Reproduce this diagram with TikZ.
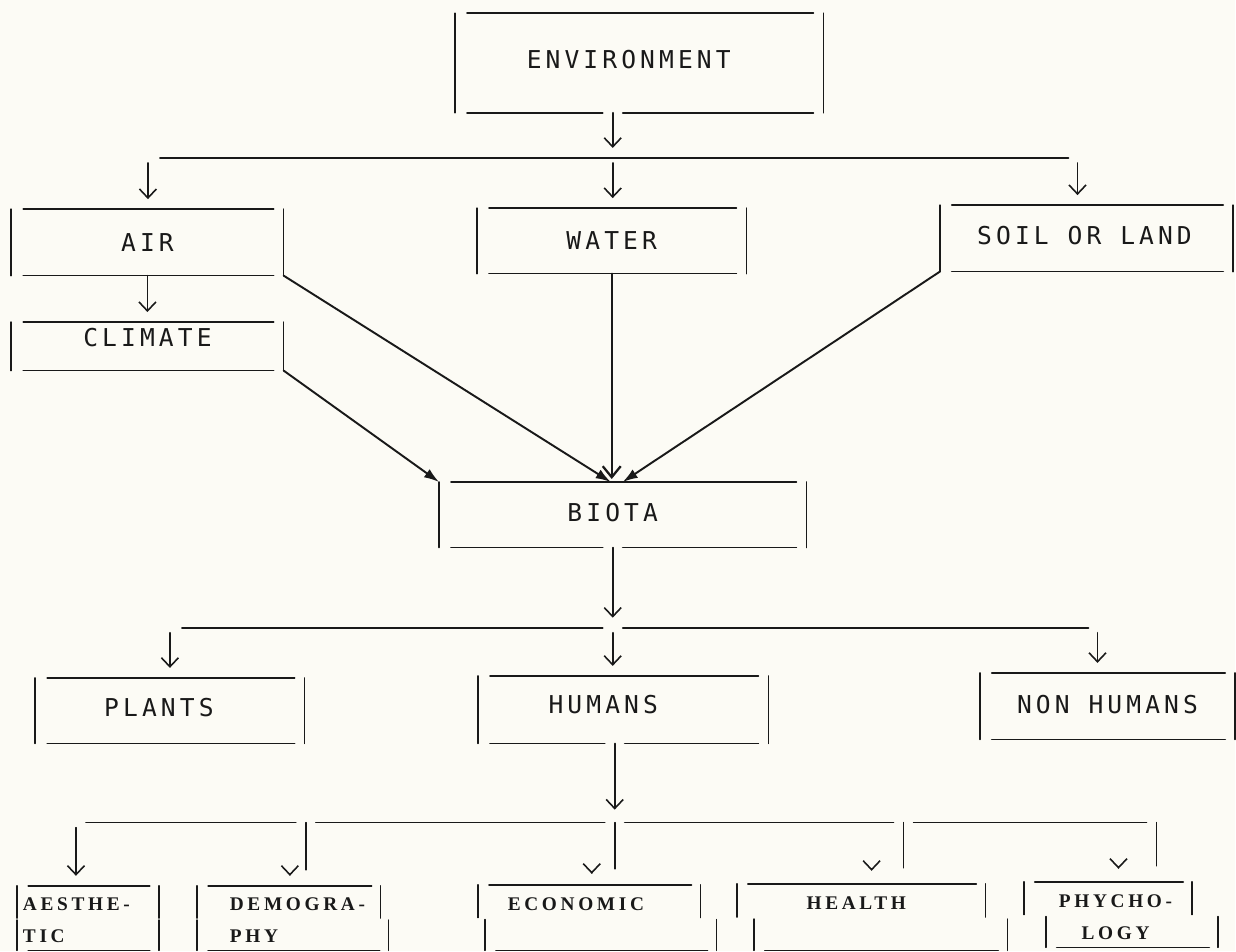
\documentclass[tikz,border=0pt]{standalone}
\usepackage{fontspec}
\usetikzlibrary{arrows.meta,positioning}
\newfontfamily\plotfont[LetterSpace=16.7]{DejaVu Sans Mono}
\newfontfamily\nlqfont[LetterSpace=19]{Liberation Serif}
\definecolor{paper}{RGB}{252,251,245}
\definecolor{ink}{RGB}{25,25,25}

\begin{document}
\begin{tikzpicture}[
  x=0.2mm, y=-0.2mm, line width=0.9pt, color=ink, line cap=round,
  >={Straight Barb[length=1.8mm,width=3.4mm]},
  plot/.style={font=\plotfont\fontsize{14}{16}\selectfont, inner sep=0pt},
  nlq/.style={font=\nlqfont\bfseries\fontsize{11}{18.5}\selectfont, inner sep=0pt, align=left},
  frame/.style 2 args={inner sep=0pt, minimum width=#1*0.2mm, minimum height=#2*0.2mm,
    append after command={\pgfextra{\let\bx\tikzlastnode}
      ([xshift=2.4mm]\bx.north west) edge ([xshift=-2mm]\bx.north east)
      (\bx.north west) edge (\bx.south west)
      (\bx.north east) edge (\bx.south east)}},
  box/.style 2 args={frame={#1}{#2},
    append after command={\pgfextra{\let\bx\tikzlastnode}
      ([xshift=2.4mm]\bx.south west) edge ([xshift=-2mm]\bx.south east)}},
  gapbox/.style n args={3}{frame={#1}{#2},
    append after command={\pgfextra{\let\bx\tikzlastnode}
      ([xshift=2.4mm]\bx.south west) edge ([xshift={(#3-10)*0.2mm}]\bx.south)
      ([xshift={(#3+10)*0.2mm}]\bx.south) edge ([xshift=-2mm]\bx.south east)}},
  tier/.style n args={4}{inner sep=0pt, minimum width=#1*0.2mm, minimum height=#2*0.2mm,
    append after command={\pgfextra{\let\bx\tikzlastnode}
      ([xshift=2.2mm]\bx.north west) edge ([xshift=-1.8mm]\bx.north east)
      (\bx.north west) edge (\bx.west)
      (\bx.north east) edge (\bx.east)
      ([shift={(#3,2)}]\bx.west) edge ([xshift={#3*0.2mm}]\bx.south west)
      ([shift={(#4,2)}]\bx.east) edge ([xshift={#4*0.2mm}]\bx.south east)
      ([xshift={(#3+11)*0.2mm}]\bx.south west) edge ([xshift={(#4-9)*0.2mm}]\bx.south east)}},
  diag/.style={line width=1.1pt, -{Latex[length=3mm,width=2mm]}}
]
  \fill[paper] (0,0) rectangle (1236,951);

  % first level
  \node[gapbox={367}{98}{-26.5}, label={[plot,shift={(-10.5,-3)}]center:ENVIRONMENT}] (env) at (639.5,63) {};
  \node[box={271}{65}, label={[plot]center:AIR}] (air) at (147.5,242.5) {};
  \node[box={268}{64}, label={[plot]center:WATER}] (water) at (612,241) {};
  \node[box={292}{65}, label={[plot,shift={(-2,-2.5)}]center:SOIL OR LAND}] (soil) at (1087,238.5) {};
  \node[box={271}{47}, label={[plot,shift={(0,-8.5)}]center:CLIMATE}] (climate) at (147.5,346.5) {};

  \coordinate (a1) at (148,158);
  \coordinate (a2) at (613,158);
  \coordinate (a3) at (1078,158);
  \draw[->, shorten >=2mm] (a2 |- env.south) -- (a2);
  \draw ([xshift=2.4mm]a1) -- ([xshift=-1.8mm]a3);
  \foreach \p/\n in {a1/air, a2/water, a3/soil}
    \draw[->, shorten <=1mm, shorten >=2mm] (\p) -- (\p |- \n.north);
  \draw[->, shorten >=2mm] (air.south) -- (climate.north);

  % into biota
  \node[gapbox={366}{64}{-10}, label={[plot,shift={(-10,-2)}]center:BIOTA}] (biota) at (623,515) {};
  \draw[diag] (climate.south east) -- (biota.north west);
  \draw[diag] (air.south east) -- ([xshift=-2.4mm]biota.north);
  \draw[line width=1.1pt, -{Straight Barb[length=2.2mm,width=3.6mm,line width=1.3pt]}, shorten >=0.6mm]
    (water.south) -- (water.south |- biota.north);
  \draw[diag] (soil.south west) -- (biota.north);

  % second level
  \node[box={268}{64}, label={[plot,shift={(-11,-3)}]center:PLANTS}] (plants) at (170,711) {};
  \node[gapbox={289}{66}{-8.5}, label={[plot,shift={(-20,-5)}]center:HUMANS}] (humans) at (623.5,710) {};
  \node[box={254}{65}, label={[plot,shift={(0,-1.5)}]center:NON HUMANS}] (nonhum) at (1108,706.5) {};

  \coordinate (b1) at (170,628);
  \coordinate (b2) at (613,628);
  \coordinate (b3) at (1098,628);
  \draw[->, shorten >=2mm] (b2 |- biota.south) -- (b2);
  \draw ([xshift=2.4mm]b1) -- ([xshift=-2mm]b2) ([xshift=2mm]b2) -- ([xshift=-1.8mm]b3);
  \foreach \p/\n in {b1/plants, b2/humans, b3/nonhum}
    \draw[->, shorten <=1mm, shorten >=2mm] (\p) -- (\p |- \n.north);

  % third level
  \node[tier={140}{63}{0}{0}, label={[nlq,anchor=north west,shift={(5,11)}]north west:AESTHE-\\TIC}] (aes) at (88,918.5) {};
  \node[tier={182}{63}{0}{8}, label={[nlq,anchor=north west,shift={(32,11)}]north west:DEMOGRA-\\PHY}] (dem) at (289,918.5) {};
  \node[tier={221}{64}{7}{16}, label={[nlq,anchor=north west,shift={(29,12)}]north west:ECONOMIC}] (eco) at (589.5,918) {};
  \node[tier={247}{65}{17}{22}, label={[nlq,anchor=north west,shift={(69,12)}]north west:HEALTH}] (hea) at (861.5,917.5) {};
  \node[tier={167}{64}{22}{26}, label={[nlq,align=center,anchor=north,shift={(7.5,12)}]north:PHYCHO-\\LOGY}] (phy) at (1108.5,915) {};

  \coordinate (c1) at (76,823);
  \coordinate (c2) at (306,823);
  \coordinate (c3) at (615,823);
  \coordinate (c4) at (904,823);
  \coordinate (c5) at (1157,823);
  \draw[->, shorten >=2.6mm] (c3 |- humans.south) -- (c3);
  \foreach \p/\q in {c1/c2, c2/c3, c3/c4, c4/c5}
    \draw ([xshift=2mm]\p) -- ([xshift=-2mm]\q);
  \draw[->, shorten <=1mm, shorten >=2mm] (c1) -- (c1 |- aes.north);
  \foreach \p/\n in {c2/dem, c3/eco, c4/hea, c5/phy}
    \draw[shorten >=3.2mm] (\p) -- (\p |- \n.north);
  \foreach \n/\dx/\dy in {dem/1/-10, eco/2.5/-11, hea/10.5/-13, phy/10.5/-13}
    \draw[->] ([shift={(\dx,\dy-1)}]\n.north) -- ([shift={(\dx,\dy)}]\n.north);
\end{tikzpicture}
\end{document}
